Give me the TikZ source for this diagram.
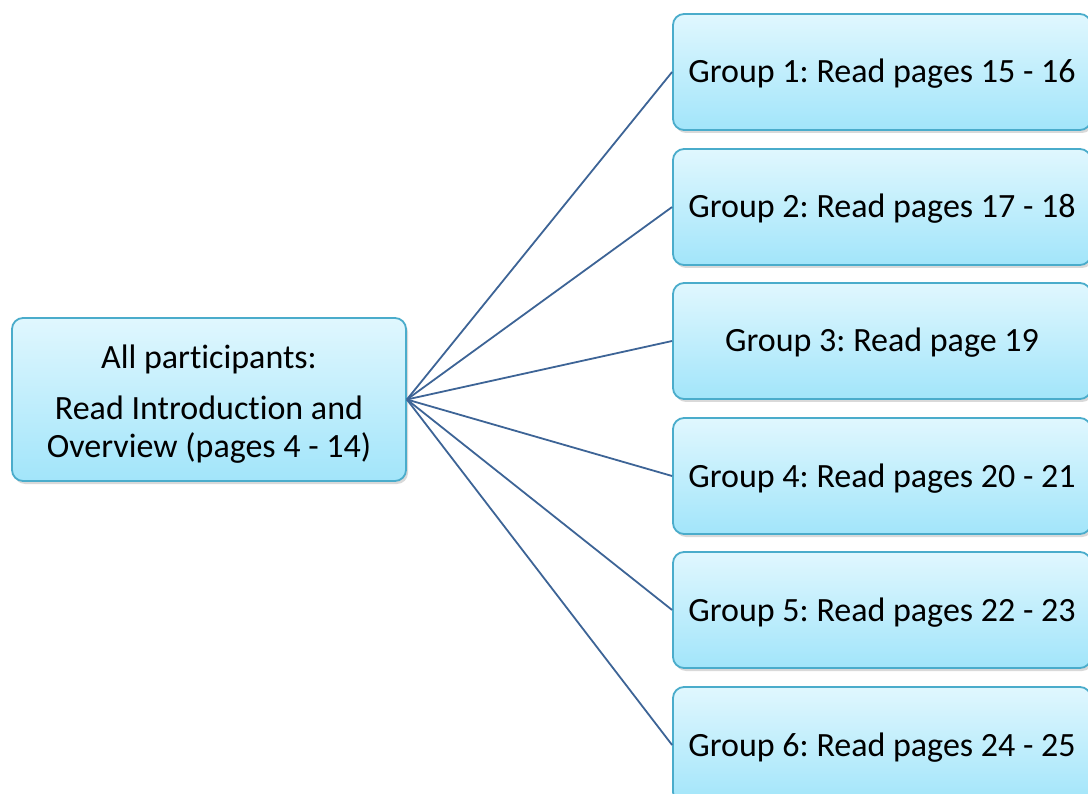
\documentclass[tikz,border=0pt]{standalone}
\usepackage{fontspec}
\setmainfont{Carlito}[Ligatures={NoCommon}]
\frenchspacing
\usetikzlibrary{shadows}
\definecolor{boxtop}{HTML}{E0F7FE}
\definecolor{boxbot}{HTML}{A2E5FA}
\definecolor{boxline}{HTML}{4AACCB}
\definecolor{conn}{HTML}{3D6496}
\tikzset{
  pbox/.style={draw=boxline, line width=1.8pt, rounded corners=11pt,
    top color=boxtop, bottom color=boxbot, inner sep=0pt,
    drop shadow={shadow xshift=2pt, shadow yshift=-3pt, opacity=0.25, fill=black!60},
    font=\fontsize{34}{38}\selectfont, text=black, align=center},
  grp/.style={pbox, minimum width=418pt, minimum height=116pt,
    text height=30pt, text depth=8pt},
  link/.style={draw=conn, line width=1.8pt}
}
\begin{document}
\begin{tikzpicture}[x=1pt,y=-1pt]
\useasboundingbox (0,0) rectangle (1088,794);
\clip (0,0) rectangle (1088,794);
\node[pbox, minimum width=394pt, minimum height=163pt] (all) at (209,399.5)
  {\rule{0pt}{32pt}All participants:\\[13pt]Read Introduction and\\Overview (pages 4 - 14)};
\node[grp] (g1) at (882,72) {Group 1: Read pages 15 - 16};
\node[grp] (g2) at (882,207) {Group 2: Read pages 17 - 18};
\node[grp] (g3) at (882,341) {Group 3: Read page 19};
\node[grp] (g4) at (882,476) {Group 4: Read pages 20 - 21};
\node[grp] (g5) at (882,610) {Group 5: Read pages 22 - 23};
\node[grp] (g6) at (882,745) {Group 6: Read pages 24 - 25};
\foreach \g in {g1,g2,g3,g4,g5,g6}
  \draw[link] (all.east) -- (\g.west);
\end{tikzpicture}
\end{document}
